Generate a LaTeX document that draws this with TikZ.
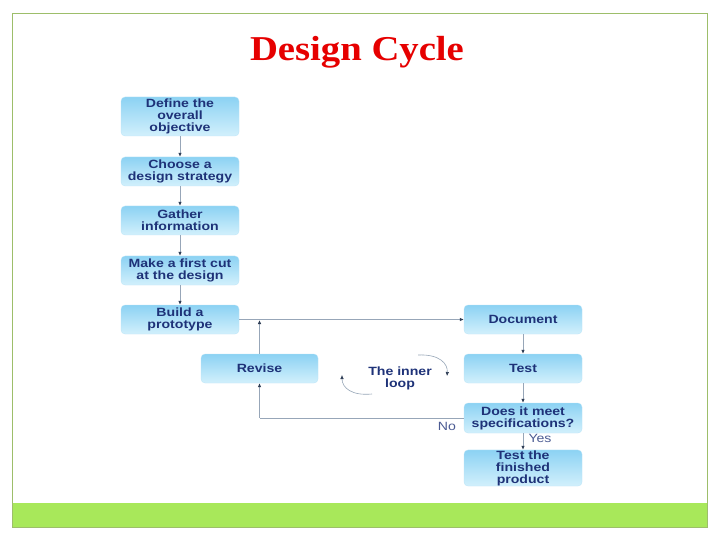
\documentclass[tikz,border=0pt]{standalone}
\usepackage{fontspec}
\setmainfont{Liberation Sans}
\newfontfamily\titlefont[FakeStretch=1.11]{Liberation Serif}
\newfontfamily\boxfont[FakeStretch=1.18]{Liberation Sans}
\usetikzlibrary{arrows.meta,shadings}
\definecolor{boxtop}{HTML}{8CD2F3}
\definecolor{boxbot}{HTML}{D2F0FC}
\definecolor{boxtxt}{HTML}{1E3278}
\definecolor{linec}{HTML}{97A6B8}
\definecolor{tipc}{HTML}{2E3D55}
\definecolor{framec}{HTML}{9DBE6A}
\definecolor{barc}{HTML}{A8E85A}
\tikzset{
  stepbox/.style={rounded corners=4bp, top color=boxtop, bottom color=boxbot, draw=boxtop!60, line width=0.3bp,
    minimum width=118bp, minimum height=29bp, inner sep=0.5bp, align=center, text=boxtxt,
    font=\boxfont\fontsize{12}{12}\selectfont\bfseries},
  conn/.style={draw=linec, line width=0.8bp, -{Latex[length=4bp,width=3.5bp,color=tipc]}},
  plain/.style={draw=linec, line width=0.8bp},
  lbl/.style={text=boxtxt!80, font=\boxfont\fontsize{12}{12}\selectfont}
}
\begin{document}
\begin{tikzpicture}[x=1bp,y=-1bp]
\useasboundingbox (0,0) rectangle (720,540);
\fill[white] (0,0) rectangle (720,540);
\fill[barc] (12,503) rectangle (707,527);
\draw[framec, line width=0.8bp] (12,13) rectangle (707,527);
\node[text={rgb,255:red,230;green,0;blue,0}, font=\titlefont\fontsize{35}{38}\selectfont\bfseries] (title) at (357,52.5) {Design Cycle};

\node[stepbox, minimum height=39bp] (define) at (180,116.5) {Define the\\overall\\objective};
\node[stepbox] (choose) at (180,171.5) {Choose a\\design strategy};
\node[stepbox] (gather) at (180,220.5) {Gather\\information};
\node[stepbox] (make) at (180,270.5) {Make a first cut\\at the design};
\node[stepbox] (build) at (180,319.5) {Build a\\prototype};
\node[stepbox, minimum width=117bp] (revise) at (259.5,368.5) {Revise};
\node[stepbox] (document) at (523,319.5) {Document};
\node[stepbox] (test) at (523,368.5) {Test};
\node[stepbox, minimum height=30bp] (meet) at (523,418) {Does it meet\\specifications?};
\node[stepbox, minimum height=30bp] (final) at (523,468) {Test the\\finished\\product};

\draw[conn] (define) -- (choose);
\draw[conn] (choose) -- (gather);
\draw[conn] (gather) -- (make);
\draw[conn] (make) -- (build);
\draw[conn] (build) -- (document);
\coordinate (up) at (259.5,320);
\draw[conn] (revise) -- (up);
\draw[conn] (document) -- (test);
\draw[conn] (test) -- (meet);
\coordinate (corner) at (259.5,418);
\draw[plain] (meet) -- (corner);
\draw[conn] (corner) -- (revise);
\draw[conn] (meet) -- (final);
\node[lbl] (no) at (447,426.5) {No};
\node[lbl] (yes) at (540,438.5) {Yes};

\node[stepbox, top color=white, bottom color=white, draw=none] (inner) at (400,378) {The inner\\loop};
\coordinate (a1) at (418,355);
\coordinate (a2) at (447,376);
\draw[conn, line width=0.6bp] (a1) .. controls (440,354) and (448,364) .. (a2);
\coordinate (b1) at (372,394);
\coordinate (b2) at (342,375);
\draw[conn, line width=0.6bp] (b1) .. controls (352,396) and (342,388) .. (b2);
\end{tikzpicture}
\end{document}
